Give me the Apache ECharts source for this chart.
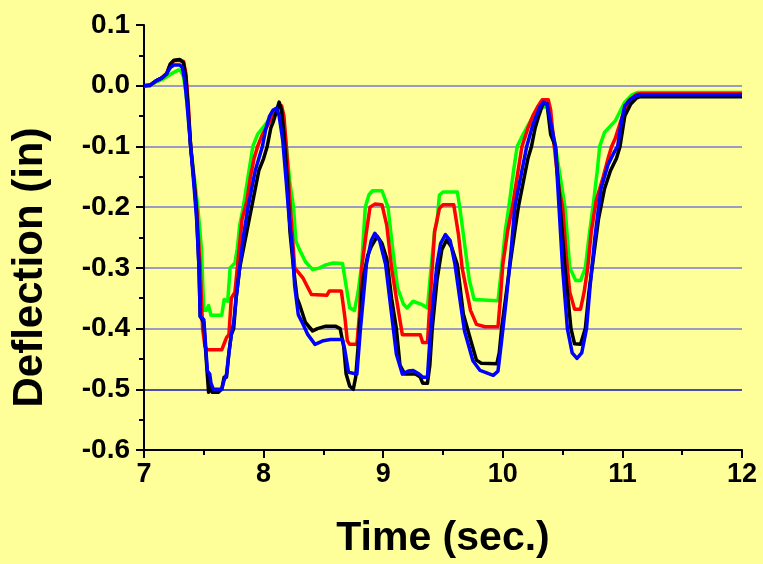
<!DOCTYPE html>
<html>
<head>
<meta charset="utf-8">
<script src="https://cdn.jsdelivr.net/npm/echarts@6/dist/echarts.min.js"></script>
<style>
html,body{margin:0;padding:0;background:#FFFF99;}
#chart{width:763px;height:564px;}
</style>
</head>
<body>
<div id="chart"></div>
<script>
const xTicks = [7, 8, 9, 10, 11, 12];
const yTicks = [-0.6, -0.5, -0.4, -0.3, -0.2, -0.1, 0.0, 0.1];
const seriesNames = ['Green', 'Red', 'Black', 'Blue'];

const greenData = [[7.00,-0.001],[7.05,0.000],[7.10,0.006],[7.15,0.010],[7.20,0.016],[7.25,0.022],[7.29,0.026],[7.31,0.024],[7.33,0.015],[7.35,-0.01],[7.37,-0.05],[7.39,-0.10],[7.42,-0.15],[7.45,-0.20],[7.48,-0.268],[7.50,-0.37],[7.52,-0.37],[7.54,-0.362],[7.56,-0.378],[7.65,-0.378],[7.67,-0.352],[7.70,-0.355],[7.72,-0.30],[7.76,-0.292],[7.78,-0.268],[7.80,-0.23],[7.83,-0.20],[7.87,-0.15],[7.91,-0.10],[7.95,-0.08],[7.99,-0.07],[8.05,-0.055],[8.10,-0.045],[8.13,-0.039],[8.16,-0.045],[8.19,-0.10],[8.22,-0.16],[8.25,-0.20],[8.27,-0.256],[8.30,-0.27],[8.35,-0.29],[8.41,-0.303],[8.47,-0.30],[8.52,-0.295],[8.58,-0.292],[8.66,-0.293],[8.69,-0.33],[8.72,-0.366],[8.76,-0.37],[8.79,-0.34],[8.82,-0.295],[8.85,-0.20],[8.88,-0.18],[8.91,-0.173],[8.99,-0.173],[9.04,-0.20],[9.08,-0.27],[9.12,-0.333],[9.17,-0.36],[9.20,-0.366],[9.25,-0.355],[9.32,-0.36],[9.37,-0.366],[9.40,-0.30],[9.43,-0.24],[9.45,-0.224],[9.47,-0.18],[9.50,-0.175],[9.62,-0.175],[9.64,-0.20],[9.68,-0.26],[9.72,-0.32],[9.76,-0.352],[9.96,-0.354],[9.99,-0.30],[10.02,-0.24],[10.05,-0.20],[10.09,-0.14],[10.12,-0.10],[10.17,-0.08],[10.24,-0.055],[10.30,-0.04],[10.34,-0.035],[10.37,-0.035],[10.40,-0.06],[10.44,-0.10],[10.52,-0.20],[10.56,-0.30],[10.61,-0.321],[10.65,-0.321],[10.69,-0.30],[10.72,-0.25],[10.76,-0.19],[10.79,-0.14],[10.81,-0.10],[10.85,-0.077],[10.94,-0.058],[11.02,-0.027],[11.08,-0.015],[11.13,-0.011],[12.00,-0.011]];

const redData = [[7.00,0.000],[7.05,0.000],[7.10,0.008],[7.15,0.013],[7.19,0.020],[7.22,0.035],[7.25,0.041],[7.30,0.042],[7.33,0.040],[7.35,0.020],[7.37,-0.03],[7.39,-0.10],[7.42,-0.16],[7.44,-0.20],[7.47,-0.30],[7.49,-0.40],[7.51,-0.43],[7.53,-0.435],[7.65,-0.435],[7.67,-0.425],[7.69,-0.415],[7.71,-0.41],[7.73,-0.35],[7.76,-0.34],[7.78,-0.30],[7.80,-0.26],[7.82,-0.22],[7.86,-0.19],[7.89,-0.15],[7.92,-0.12],[7.95,-0.10],[7.99,-0.08],[8.05,-0.06],[8.10,-0.045],[8.13,-0.035],[8.15,-0.033],[8.17,-0.05],[8.19,-0.10],[8.22,-0.19],[8.26,-0.30],[8.33,-0.317],[8.40,-0.344],[8.53,-0.345],[8.55,-0.338],[8.65,-0.338],[8.68,-0.382],[8.70,-0.42],[8.72,-0.426],[8.78,-0.426],[8.80,-0.38],[8.82,-0.30],[8.86,-0.24],[8.89,-0.20],[8.93,-0.195],[8.99,-0.196],[9.03,-0.23],[9.07,-0.30],[9.11,-0.35],[9.16,-0.41],[9.31,-0.41],[9.33,-0.423],[9.37,-0.423],[9.39,-0.36],[9.43,-0.24],[9.47,-0.202],[9.50,-0.196],[9.59,-0.196],[9.63,-0.246],[9.66,-0.30],[9.73,-0.37],[9.78,-0.393],[9.85,-0.397],[9.96,-0.397],[9.98,-0.35],[10.00,-0.295],[10.04,-0.24],[10.08,-0.20],[10.12,-0.15],[10.16,-0.10],[10.21,-0.07],[10.25,-0.05],[10.29,-0.035],[10.33,-0.023],[10.38,-0.023],[10.40,-0.04],[10.43,-0.10],[10.47,-0.17],[10.50,-0.20],[10.53,-0.28],[10.56,-0.34],[10.60,-0.368],[10.65,-0.368],[10.68,-0.34],[10.71,-0.30],[10.74,-0.24],[10.78,-0.19],[10.84,-0.15],[10.88,-0.12],[10.91,-0.10],[10.94,-0.087],[11.00,-0.05],[11.05,-0.025],[11.12,-0.014],[11.15,-0.013],[12.00,-0.013]];

const blackData = [[7.00,0.000],[7.05,0.001],[7.10,0.008],[7.15,0.013],[7.19,0.020],[7.22,0.036],[7.25,0.042],[7.30,0.043],[7.33,0.038],[7.35,0.015],[7.37,-0.04],[7.39,-0.10],[7.42,-0.16],[7.44,-0.21],[7.46,-0.30],[7.47,-0.38],[7.50,-0.39],[7.52,-0.45],[7.54,-0.505],[7.55,-0.49],[7.57,-0.505],[7.62,-0.505],[7.65,-0.50],[7.67,-0.48],[7.69,-0.48],[7.71,-0.44],[7.73,-0.41],[7.75,-0.40],[7.77,-0.35],[7.80,-0.30],[7.83,-0.27],[7.86,-0.24],[7.88,-0.22],[7.90,-0.20],[7.93,-0.17],[7.96,-0.14],[8.00,-0.12],[8.03,-0.10],[8.06,-0.07],[8.08,-0.06],[8.11,-0.04],[8.13,-0.027],[8.15,-0.04],[8.17,-0.08],[8.20,-0.16],[8.22,-0.24],[8.25,-0.30],[8.28,-0.35],[8.30,-0.36],[8.35,-0.39],[8.41,-0.404],[8.45,-0.40],[8.52,-0.396],[8.60,-0.396],[8.64,-0.40],[8.67,-0.43],[8.69,-0.475],[8.72,-0.495],[8.75,-0.50],[8.77,-0.48],[8.79,-0.43],[8.83,-0.32],[8.87,-0.28],[8.90,-0.265],[8.95,-0.248],[8.99,-0.26],[9.03,-0.285],[9.07,-0.35],[9.11,-0.40],[9.14,-0.46],[9.18,-0.475],[9.27,-0.475],[9.31,-0.48],[9.33,-0.49],[9.37,-0.49],[9.39,-0.46],[9.41,-0.40],[9.45,-0.32],[9.49,-0.27],[9.53,-0.254],[9.57,-0.265],[9.62,-0.295],[9.67,-0.376],[9.74,-0.425],[9.78,-0.452],[9.82,-0.457],[9.95,-0.458],[9.97,-0.44],[9.99,-0.40],[10.03,-0.34],[10.06,-0.295],[10.10,-0.24],[10.13,-0.20],[10.18,-0.15],[10.21,-0.12],[10.24,-0.10],[10.27,-0.07],[10.30,-0.05],[10.33,-0.033],[10.35,-0.028],[10.37,-0.030],[10.40,-0.08],[10.44,-0.10],[10.48,-0.20],[10.52,-0.30],[10.57,-0.40],[10.60,-0.425],[10.65,-0.426],[10.69,-0.40],[10.72,-0.34],[10.76,-0.28],[10.80,-0.22],[10.85,-0.17],[10.90,-0.14],[10.95,-0.12],[10.98,-0.10],[11.02,-0.05],[11.07,-0.03],[11.12,-0.02],[11.15,-0.018],[12.00,-0.018]];

const blueData = [[7.00,0.000],[7.05,0.001],[7.10,0.008],[7.15,0.013],[7.19,0.020],[7.22,0.030],[7.25,0.034],[7.30,0.034],[7.32,0.030],[7.34,0.010],[7.36,-0.03],[7.39,-0.10],[7.42,-0.17],[7.44,-0.22],[7.46,-0.30],[7.47,-0.38],[7.50,-0.385],[7.53,-0.47],[7.55,-0.475],[7.56,-0.49],[7.58,-0.50],[7.65,-0.50],[7.67,-0.485],[7.69,-0.475],[7.71,-0.44],[7.73,-0.41],[7.75,-0.39],[7.77,-0.35],[7.80,-0.30],[7.83,-0.25],[7.87,-0.20],[7.90,-0.17],[7.93,-0.14],[7.96,-0.12],[7.99,-0.10],[8.02,-0.07],[8.05,-0.05],[8.08,-0.04],[8.11,-0.037],[8.13,-0.05],[8.16,-0.09],[8.19,-0.16],[8.21,-0.21],[8.24,-0.267],[8.26,-0.33],[8.29,-0.377],[8.33,-0.393],[8.37,-0.41],[8.43,-0.426],[8.50,-0.42],[8.56,-0.418],[8.66,-0.418],[8.68,-0.436],[8.71,-0.472],[8.78,-0.475],[8.81,-0.40],[8.86,-0.294],[8.90,-0.255],[8.93,-0.243],[8.97,-0.255],[9.02,-0.294],[9.07,-0.376],[9.11,-0.442],[9.16,-0.475],[9.21,-0.47],[9.25,-0.469],[9.30,-0.475],[9.33,-0.48],[9.37,-0.48],[9.39,-0.42],[9.42,-0.35],[9.45,-0.294],[9.48,-0.26],[9.52,-0.245],[9.56,-0.255],[9.60,-0.294],[9.64,-0.35],[9.68,-0.404],[9.75,-0.453],[9.81,-0.469],[9.92,-0.477],[9.96,-0.47],[9.99,-0.42],[10.03,-0.35],[10.07,-0.27],[10.10,-0.20],[10.15,-0.15],[10.20,-0.10],[10.25,-0.065],[10.28,-0.05],[10.31,-0.035],[10.34,-0.027],[10.37,-0.030],[10.40,-0.06],[10.44,-0.10],[10.47,-0.20],[10.50,-0.30],[10.54,-0.40],[10.58,-0.44],[10.62,-0.449],[10.66,-0.44],[10.70,-0.40],[10.73,-0.33],[10.77,-0.25],[10.82,-0.17],[10.88,-0.13],[10.93,-0.11],[10.96,-0.10],[10.99,-0.06],[11.02,-0.033],[11.07,-0.022],[11.12,-0.016],[11.15,-0.015],[12.00,-0.015]];

const seriesColors = ['#00FF00', '#FF0000', '#000000', '#0000FF'];
const seriesData = [greenData, redData, blackData, blueData];

const FONT = '"Liberation Sans", Arial, sans-serif';
const chart = echarts.init(document.getElementById('chart'));
chart.setOption({
  backgroundColor: '#FFFF99',
  animation: false,
  grid: { left: 144, right: 21, top: 25, bottom: 111, containLabel: false },
  xAxis: {
    type: 'value', min: xTicks[0], max: xTicks[xTicks.length - 1], interval: 1,
    name: 'Time (sec.)', nameLocation: 'middle', nameGap: 68,
    nameTextStyle: { fontFamily: FONT, fontWeight: 'bold', fontSize: 41, color: '#000' },
    axisLine: { show: true, onZero: false, lineStyle: { color: '#000', width: 2 } },
    axisTick: { show: true, inside: false, length: 8, lineStyle: { color: '#000', width: 2 } },
    minorTick: { show: true, splitNumber: 2, length: 5, lineStyle: { color: '#000', width: 2 } },
    axisLabel: { fontFamily: FONT, fontWeight: 'bold', fontSize: 27, color: '#000', margin: 11 },
    splitLine: { show: false }
  },
  yAxis: {
    type: 'value', min: yTicks[0], max: yTicks[yTicks.length - 1], interval: 0.1,
    name: 'Deflection (in)', nameLocation: 'middle', nameGap: 93, nameRotate: 90,
    nameTextStyle: { fontFamily: FONT, fontWeight: 'bold', fontSize: 42, color: '#000', padding: [0, 60, 0, 0] },
    axisLine: { show: true, onZero: false, lineStyle: { color: '#000', width: 2 } },
    axisTick: { show: true, inside: false, length: 8, lineStyle: { color: '#000', width: 2 } },
    minorTick: { show: true, splitNumber: 2, length: 5, lineStyle: { color: '#000', width: 2 } },
    axisLabel: { fontFamily: FONT, fontWeight: 'bold', fontSize: 28, color: '#000', margin: 14,
      formatter: v => (Math.abs(v) < 1e-9 ? 0 : v).toFixed(1) },
    splitLine: { show: true, lineStyle: { width: 1.5,
      color: ['rgba(0,0,0,0)', '#1010b8', '#7a7ad2', '#7a7ad2', '#7a7ad2', '#7a7ad2', '#7a7ad2', 'rgba(0,0,0,0)'] } }
  },
  series: seriesNames.map((n, i) => ({
    name: n, type: 'line', data: seriesData[i], showSymbol: false, symbol: 'none',
    lineStyle: { color: seriesColors[i], width: 3.5, join: 'round' }, z: 2 + i
  }))
});
</script>
</body>
</html>
